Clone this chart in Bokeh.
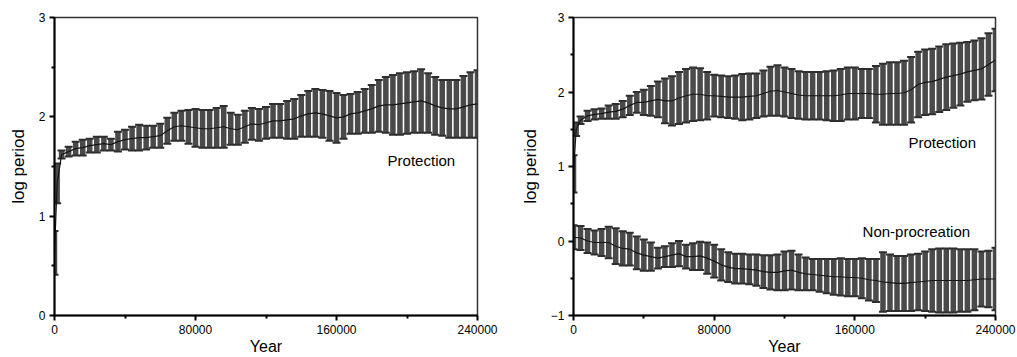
from bokeh.plotting import figure
from bokeh.models import ColumnDataSource, FixedTicker, Range1d, Label
from bokeh.layouts import row
from bokeh.embed import file_html
from bokeh.resources import INLINE

# ---------------- data ----------------
grid = list(range(4000, 240001, 4000))

left_years = [0, 1500] + grid
left_mean = [0.63, 1.33,
    1.62, 1.65, 1.68, 1.69, 1.71, 1.72, 1.73, 1.72, 1.75, 1.77,
    1.78, 1.79, 1.79, 1.80, 1.81, 1.86, 1.90, 1.91, 1.90, 1.89,
    1.88, 1.88, 1.89, 1.90, 1.88, 1.87, 1.90, 1.93, 1.92, 1.94,
    1.96, 1.96, 1.97, 1.98, 2.01, 2.03, 2.04, 2.03, 2.01, 1.99,
    2.00, 2.03, 2.04, 2.06, 2.08, 2.11, 2.12, 2.12, 2.13, 2.14,
    2.15, 2.16, 2.14, 2.11, 2.09, 2.08, 2.08, 2.10, 2.12, 2.13]
left_err = [0.22, 0.20,
    0.04, 0.05, 0.07, 0.08, 0.07, 0.08, 0.07, 0.06, 0.10, 0.10,
    0.12, 0.13, 0.12, 0.11, 0.12, 0.13, 0.14, 0.15, 0.17, 0.19,
    0.19, 0.19, 0.20, 0.21, 0.16, 0.15, 0.16, 0.16, 0.16, 0.16,
    0.17, 0.17, 0.19, 0.20, 0.21, 0.23, 0.24, 0.24, 0.25, 0.25,
    0.22, 0.20, 0.21, 0.22, 0.24, 0.26, 0.28, 0.30, 0.31, 0.31,
    0.31, 0.32, 0.30, 0.29, 0.28, 0.29, 0.29, 0.31, 0.33, 0.34]

right_prot_years = [0, 1500] + grid
right_prot_mean = [0.90, 1.50,
    1.62, 1.68, 1.70, 1.71, 1.73, 1.74, 1.77, 1.82, 1.86, 1.86,
    1.88, 1.90, 1.88, 1.88, 1.92, 1.95, 1.97, 1.97, 1.95, 1.95,
    1.94, 1.93, 1.93, 1.93, 1.94, 1.95, 1.98, 2.01, 2.02, 2.00,
    1.98, 1.96, 1.95, 1.95, 1.95, 1.95, 1.95, 1.96, 1.98, 1.98,
    1.98, 1.98, 1.97, 1.97, 1.98, 1.98, 1.99, 2.03, 2.10, 2.13,
    2.14, 2.17, 2.20, 2.22, 2.24, 2.27, 2.29, 2.31, 2.37, 2.43]
right_prot_err = [0.25, 0.09,
    0.05, 0.07, 0.07, 0.07, 0.09, 0.10, 0.11, 0.13, 0.14, 0.17,
    0.20, 0.24, 0.30, 0.33, 0.35, 0.36, 0.36, 0.35, 0.32, 0.28,
    0.28, 0.28, 0.29, 0.31, 0.31, 0.30, 0.31, 0.33, 0.34, 0.33,
    0.33, 0.32, 0.32, 0.32, 0.32, 0.33, 0.34, 0.35, 0.35, 0.35,
    0.33, 0.33, 0.38, 0.41, 0.42, 0.42, 0.43, 0.44, 0.44, 0.44,
    0.44, 0.44, 0.44, 0.43, 0.42, 0.40, 0.40, 0.41, 0.42, 0.42]

right_np_years = [0] + grid
right_np_mean = [0.05,
    0.04, 0.00, -0.02, -0.02, -0.02, -0.07, -0.10, -0.11, -0.16, -0.19,
    -0.21, -0.23, -0.21, -0.19, -0.17, -0.21, -0.21, -0.20, -0.23, -0.27,
    -0.32, -0.35, -0.37, -0.37, -0.38, -0.39, -0.41, -0.42, -0.42, -0.40,
    -0.39, -0.42, -0.44, -0.45, -0.46, -0.47, -0.48, -0.48, -0.49, -0.49,
    -0.50, -0.52, -0.53, -0.55, -0.56, -0.57, -0.57, -0.56, -0.55, -0.54,
    -0.53, -0.53, -0.53, -0.53, -0.53, -0.53, -0.52, -0.51, -0.51, -0.51]
right_np_err = [0.16,
    0.16, 0.16, 0.16, 0.18, 0.21, 0.24, 0.23, 0.22, 0.22, 0.21,
    0.19, 0.14, 0.14, 0.16, 0.17, 0.16, 0.18, 0.19, 0.21, 0.22,
    0.21, 0.20, 0.20, 0.20, 0.20, 0.21, 0.22, 0.23, 0.24, 0.26,
    0.26, 0.24, 0.22, 0.21, 0.22, 0.23, 0.24, 0.25, 0.25, 0.25,
    0.27, 0.28, 0.29, 0.40, 0.38, 0.37, 0.37, 0.38, 0.38, 0.40,
    0.42, 0.43, 0.43, 0.43, 0.42, 0.42, 0.41, 0.37, 0.38, 0.42]

x_ticks = [0, 80000, 160000, 240000]
x_minor = [40000, 120000, 200000]

FONT = "Liberation Sans"
BAR_COLOR = "#4a4a4a"


def add_series(p, years, mean, err):
    src = ColumnDataSource(dict(
        x=years, m=mean,
        lo=[a - b for a, b in zip(mean, err)],
        hi=[a + b for a, b in zip(mean, err)]))
    p.segment(x0="x", y0="lo", x1="x", y1="hi", source=src,
              line_color=BAR_COLOR, line_width=5.5)
    p.dash(x="x", y="hi", source=src, size=8, line_color="#2e2e2e", line_width=2)
    p.dash(x="x", y="lo", source=src, size=8, line_color="#2e2e2e", line_width=2)
    p.line(x="x", y="m", source=src, line_color="#151515", line_width=1.2)


def make_panel(width, bl, br, ymin, ymax, yticks, yminor, overrides):
    p = figure(width=width, height=357, output_backend="svg", toolbar_location=None,
               x_range=Range1d(0, 240000), y_range=Range1d(ymin, ymax),
               min_border_left=bl, min_border_right=br,
               min_border_top=17, min_border_bottom=42)
    p.xgrid.visible = False
    p.ygrid.visible = False
    p.outline_line_color = "#333333"
    p.outline_line_width = 1.5
    p.background_fill_color = "white"
    p.border_fill_color = "white"
    p.xaxis.ticker = FixedTicker(ticks=x_ticks, minor_ticks=x_minor)
    p.yaxis.ticker = FixedTicker(ticks=yticks, minor_ticks=yminor)
    p.yaxis.major_label_overrides = overrides
    p.xaxis.major_label_overrides = {t: str(t) for t in x_ticks}
    for ax in (p.xaxis[0], p.yaxis[0]):
        ax.axis_line_color = "black"
        ax.axis_line_width = 2
        ax.major_tick_line_color = "black"
        ax.major_tick_line_width = 2
        ax.minor_tick_line_color = "black"
        ax.minor_tick_line_width = 2
        ax.major_tick_in = 0
        ax.major_tick_out = 5
        ax.minor_tick_in = 0
        ax.minor_tick_out = 3
        ax.major_label_text_font = FONT
        ax.major_label_text_font_size = "12px"
        ax.major_label_text_color = "black"
        ax.axis_label_text_font = FONT
        ax.axis_label_text_font_size = "16px"
        ax.axis_label_text_font_style = "normal"
        ax.axis_label_text_color = "black"
    p.yaxis.axis_label_text_font_size = "17px"
    p.xaxis.axis_label = "Year"
    p.yaxis.axis_label = "log period"
    p.yaxis.major_label_standoff = 4
    p.yaxis.axis_label_standoff = 8
    p.xaxis.major_label_standoff = 4
    p.xaxis.axis_label_standoff = 1
    return p


def add_label(p, x, y, txt):
    p.add_layout(Label(x=x, y=y, text=txt, text_font=FONT, text_font_size="15px",
                       text_baseline="middle", text_align="left", text_color="black"))


p1 = make_panel(510, 54, 33, 0, 3, [0, 1, 2, 3], [0.5, 1.5, 2.5],
                {0: "0", 1: "1", 2: "2", 3: "3"})
add_series(p1, left_years, left_mean, left_err)
add_label(p1, 189000, 1.56, "Protection")

p2 = make_panel(507, 63, 22, -1, 3, [-1, 0, 1, 2, 3], [-0.5, 0.5, 1.5, 2.5],
                {-1: "\u22121", 0: "0", 1: "1", 2: "2", 3: "3"})
add_series(p2, right_prot_years, right_prot_mean, right_prot_err)
add_series(p2, right_np_years, right_np_mean, right_np_err)
add_label(p2, 190500, 1.32, "Protection")
add_label(p2, 164400, 0.13, "Non-procreation")

layout = row(p1, p2)
open("out.html", "w").write(file_html(layout, INLINE))
